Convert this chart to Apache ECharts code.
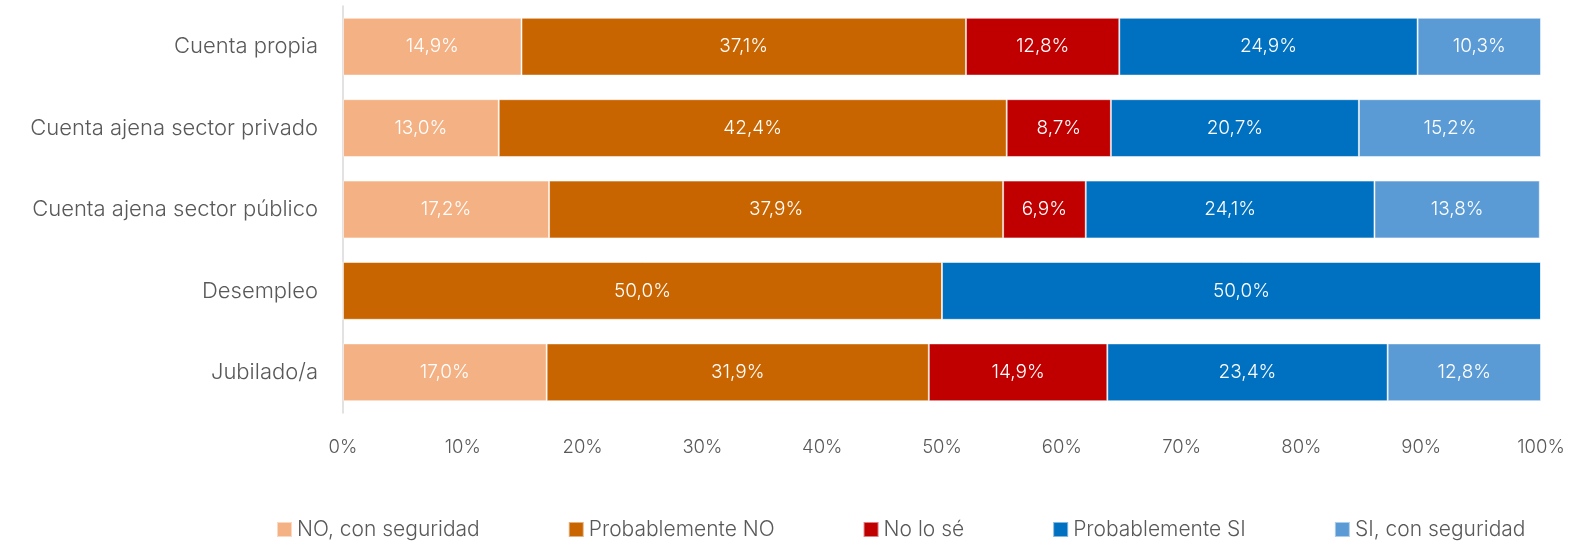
<!DOCTYPE html>
<html><head><meta charset="utf-8">
<script src="https://cdn.jsdelivr.net/npm/echarts@6/dist/echarts.min.js"></script>
<style>html,body{margin:0;padding:0;background:#fff}#c{width:1581px;height:541px}</style>
</head><body><div id="c"></div>
<script>
const categories = ['Cuenta propia','Cuenta ajena sector privado','Cuenta ajena sector público','Desempleo','Jubilado/a'];
const seriesNames = ['NO, con seguridad','Probablemente NO','No lo sé','Probablemente SI','SI, con seguridad'];
const noSeguro = [14.9, 13.0, 17.2, 0, 17.0];
const probNo = [37.1, 42.4, 37.9, 50.0, 31.9];
const noSe = [12.8, 8.7, 6.9, 0, 14.9];
const probSi = [24.9, 20.7, 24.1, 50.0, 23.4];
const siSeguro = [10.3, 15.2, 13.8, 0, 12.8];
const xTicks = [0,10,20,30,40,50,60,70,80,90,100];
const colors = ['#F4B183','#C96500','#C00000','#0070C0','#5B9BD5'];
const FONT = 'Inter';
const values = [noSeguro, probNo, noSe, probSi, siSeguro];
const chart = echarts.init(document.getElementById('c'), null, {renderer:'canvas'});
chart.setOption({
  animation:false,
  color: colors,
  grid:{left:343,right:40,top:6,bottom:128},
  xAxis:{type:'value',min:0,max:100,interval:10,
    axisLine:{show:false},axisTick:{show:false},splitLine:{show:false},
    axisLabel:{formatter:v=>v+'%',color:'#595959',fontFamily:FONT,fontWeight:300,fontSize:18.5,margin:25}},
  yAxis:{type:'category',data:categories,inverse:true,
    axisLine:{show:true,lineStyle:{color:'#D9D9D9',width:1.5}},axisTick:{show:false},
    axisLabel:{color:'#595959',fontFamily:FONT,fontWeight:300,fontSize:22,margin:25}},
  legend:{top:514,left:271,itemWidth:15,itemHeight:15,itemGap:88,icon:'rect',
    textStyle:{color:'#595959',fontFamily:FONT,fontWeight:300,fontSize:21},
    data:seriesNames},
  series: seriesNames.map((n,i)=>({
    name:n,type:'bar',stack:'t',barCategoryGap:'29%',
    data:values[i],
    itemStyle:{borderColor:'rgba(255,255,255,0.5)',borderWidth:1},
    label:{show:true,position:'inside',color:'#fff',fontFamily:FONT,fontWeight:300,fontSize:19,
      formatter:p=>p.value?p.value.toFixed(1).replace('.',',')+'%':''}
  }))
});
</script></body></html>
